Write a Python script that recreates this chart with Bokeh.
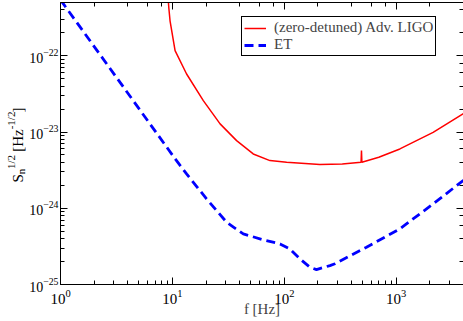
import math
from bokeh.plotting import figure
from bokeh.layouts import row
from bokeh.models import LogAxis, LogTicker, Label, Legend, LegendItem, Range1d
from bokeh.embed import file_html
from bokeh.resources import INLINE

# ---- data ----
et_f = [1.0, 1.09, 3.0, 10.6, 13.4, 20.2, 30.5, 43.0, 65.0, 91.6, 112.0, 138.0,
        169.0, 194.0, 256.0, 284.0, 543.0, 1080.0, 2140.0, 4000.0]
et_s = [5.4e-22, 4.54e-22, 5.8e-23, 4.44e-24, 2.82e-24, 1.33e-24, 6.56e-25, 4.61e-25,
        3.85e-25, 3.41e-25, 2.94e-25, 2.17e-25, 1.69e-25, 1.57e-25, 1.77e-25, 1.87e-25,
        3.08e-25, 5.37e-25, 1.14e-24, 2.33e-24]

aligo_f = [9.2, 9.3, 9.53, 10.57, 13.4, 18.9, 26.7, 37.5, 52.8, 74.5, 105.0, 208.0,
           330.0, 486.0, 490.0, 494.0, 700.0, 1080.0, 2140.0, 4000.0]
aligo_s = [5.2e-22, 4.2e-22, 2.88e-22, 1.17e-22, 5.77e-23, 2.58e-23, 1.28e-23, 7.71e-24,
           5.16e-24, 4.22e-24, 4.01e-24, 3.74e-24, 3.8e-24, 4.0e-24, 5.7e-24, 4.02e-24,
           4.66e-24, 6.0e-24, 9.9e-24, 1.75e-23]

x_limits = (1.0, 4000.0)
y_limits = (1e-25, 5e-22)

legend_labels = ["(zero-detuned) Adv. LIGO", "ET"]
x_title = "f [Hz]"
y_title_parts = ["S", "n", "1/2", "[Hz", "-1/2", "]"]

FONT = "Liberation Serif"
H = 326
TW = 26  # width of the y-title strip

p = figure(width=465 - TW, height=H, x_axis_type="log", y_axis_type="log",
           x_range=Range1d(*x_limits), y_range=Range1d(*y_limits),
           output_backend="svg", toolbar_location=None,
           min_border_left=59 - TW, min_border_right=2, min_border_top=7, min_border_bottom=37)
p.grid.visible = False
p.outline_line_color = None
p.background_fill_color = "white"
p.border_fill_color = "white"

r_aligo = p.line(aligo_f, aligo_s, line_color="#ff0000", line_width=1.5)
r_et = p.line(et_f, et_s, line_color="#0000ff", line_width=2.8, line_dash="9 5")

def style_axis(ax, labels=True):
    ax.major_tick_in = 7
    ax.major_tick_out = 0
    ax.minor_tick_in = 4
    ax.minor_tick_out = 0
    ax.axis_line_color = "black"
    ax.major_tick_line_color = "black"
    ax.minor_tick_line_color = "black"
    ax.major_label_text_font = FONT
    ax.major_label_text_font_size = "15px"
    ax.major_label_text_color = "black"
    if not labels:
        ax.major_label_text_font_size = "1px"
        ax.major_label_text_color = None
        ax.major_label_standoff = 0

style_axis(p.xaxis[0])
style_axis(p.yaxis[0])
p.yaxis[0].major_label_text_font_size = "14px"
p.xaxis[0].major_label_standoff = 5
p.yaxis[0].major_label_standoff = 2
p.xaxis[0].axis_label = x_title
p.xaxis[0].axis_label_text_font = FONT
p.xaxis[0].axis_label_text_font_size = "15px"
p.xaxis[0].axis_label_text_font_style = "normal"
p.xaxis[0].axis_label_standoff = -6

top = LogAxis(ticker=LogTicker())
style_axis(top, labels=False)
p.add_layout(top, "above")
right = LogAxis(ticker=LogTicker())
style_axis(right, labels=False)
p.add_layout(right, "right")

legend = Legend(items=[LegendItem(label=legend_labels[0], renderers=[r_aligo]),
                       LegendItem(label=legend_labels[1], renderers=[r_et])],
                location=(181, 228))
legend.border_line_color = "black"
legend.border_line_width = 1
legend.border_line_alpha = 1
legend.background_fill_alpha = 1
legend.padding = 2
legend.spacing = -4
legend.margin = 0
legend.label_text_font = FONT
legend.label_text_font_size = "15px"
legend.glyph_width = 22
legend.glyph_height = 14
legend.label_height = 14
legend.label_standoff = 8
p.add_layout(legend)

# narrow strip on the left that carries the rotated y-axis title
t = figure(width=TW, height=H, output_backend="svg", toolbar_location=None,
           x_axis_location=None, y_axis_location=None,
           min_border_left=0, min_border_right=0, min_border_top=0, min_border_bottom=0)
t.grid.visible = False
t.outline_line_color = None
t.background_fill_color = "white"
t.border_fill_color = "white"

FB = 284  # frame bottom (picture pixels), shared by both frames in the row
# (baseline x, start y) in picture pixels, font sizes
pos = [(15, 182), (18, 173.7), (8, 168.5), (15, 151.3), (8, 128.8), (15, 111.9)]
sizes = ["15px", "11px", "11px", "15px", "11px", "15px"]
for txt, (px, py), fs in zip(y_title_parts, pos, sizes):
    t.add_layout(Label(x=px + 2, y=FB - py, x_units="screen", y_units="screen",
                       text=txt, angle=math.pi / 2, text_align="left",
                       text_baseline="alphabetic", text_font=FONT,
                       text_font_size=fs, text_color="black"))

layout = row(t, p)
layout.styles = {"margin-top": "-5px"}
open("out.html", "w").write(file_html(layout, INLINE))
